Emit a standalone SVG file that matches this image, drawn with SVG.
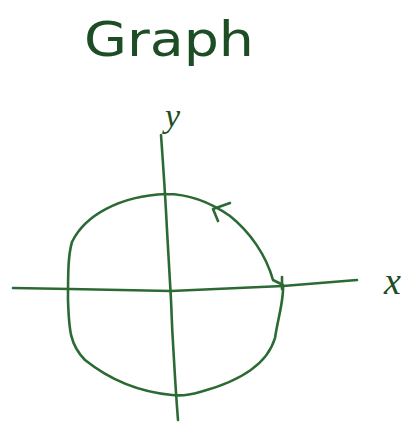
<svg xmlns="http://www.w3.org/2000/svg" width="417" height="423" viewBox="0 0 417 423">
<style>
.ln{fill:none;stroke:#2c6a34;stroke-width:2.6;stroke-linecap:round;stroke-linejoin:round}
.tx{fill:#1d4d24;font-family:"Liberation Serif",serif;font-style:italic}
.title{fill:#1d4d24;font-family:"DejaVu Sans",sans-serif;font-style:normal;font-weight:normal}
</style>
<rect width="417" height="423" fill="#ffffff"/>
<g id="title"><text class="title" x="84" y="56" font-size="48" textLength="170" lengthAdjust="spacingAndGlyphs">Graph</text></g>
<g id="labels">
<text id="label-y" class="tx" x="165" y="127" font-size="34">y</text>
<text id="label-x" class="tx" x="384" y="294" font-size="38">x</text>
</g>
<g id="connectors">
<path id="y-axis" class="ln" d="M161,135 Q165,190 167,230 Q170,280 171,300 Q172,330 174,360 Q176,395 178,420"/>
<path id="x-axis" class="ln" d="M13,288 L70,289 L171,291 L283,286 L357,280"/>
<path id="circle" class="ln" d="M166,194 C190,194 210,202 230,216 C250,232 266,255 273,280 L283,285 C284,300 278,318 275,338 C268,362 245,380 200,392 C190,395 180,396 172,395 C140,392 110,380 85,360 C70,345 69,330 68,300 C68,275 68,255 72,242 C85,215 120,196 166,194"/>
<path id="tick" class="ln" d="M282,277 L282,289"/>
<path id="arrowhead" class="ln" d="M230,203 L213,209 L218,221"/>
</g>
</svg>
